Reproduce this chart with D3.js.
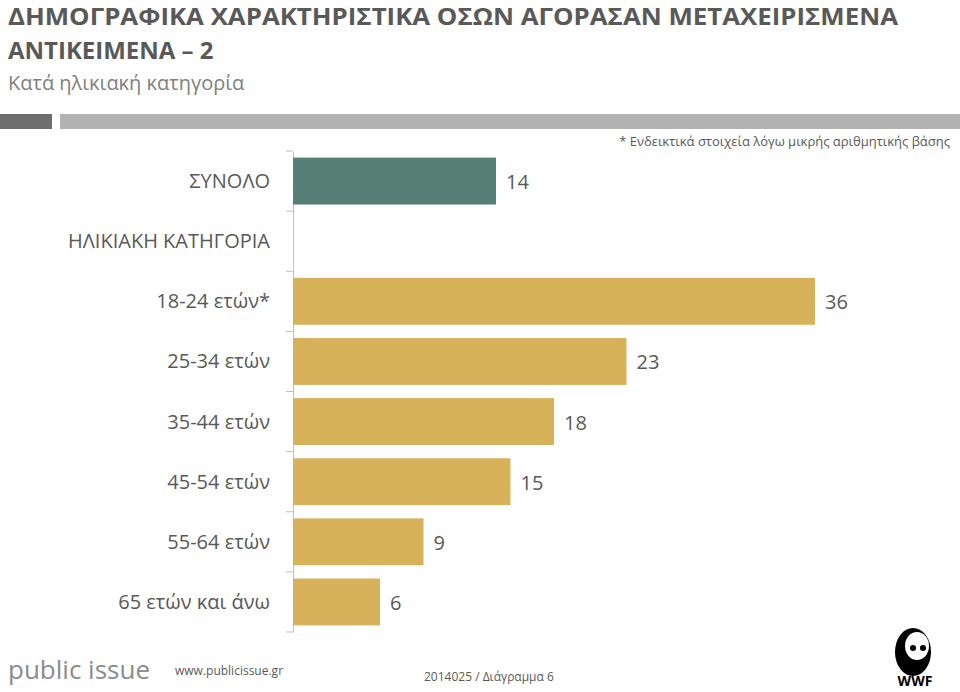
<!DOCTYPE html><html><head><meta charset="utf-8">
<script src="https://cdn.jsdelivr.net/npm/d3@7"></script>
<style>body{margin:0;background:#fff}text{font-family:"Open Sans",sans-serif}</style></head><body>
<svg id="c" width="960" height="692"></svg>
<script>
const categories=["ΣΥΝΟΛΟ","ΗΛΙΚΙΑΚΗ ΚΑΤΗΓΟΡΙΑ","18-24 ετών*","25-34 ετών","35-44 ετών","45-54 ετών","55-64 ετών","65 ετών και άνω"];
const values=[14,null,36,23,18,15,9,6];
const colors=["#568075",null,"#d8b25a","#d8b25a","#d8b25a","#d8b25a","#d8b25a","#d8b25a"];
const svg=d3.select("#c");
const x=d3.scaleLinear().domain([0,36]).range([293,815]);
const y=d3.scaleBand().domain(categories).range([151,632]).paddingInner(0.22).paddingOuter(0.11);
svg.append("text").attr("x",8).attr("y",25).attr("font-size",24).attr("font-weight","bold").attr("fill","#595959").attr("textLength",890).attr("lengthAdjust","spacingAndGlyphs").text("ΔΗΜΟΓΡΑΦΙΚΑ ΧΑΡΑΚΤΗΡΙΣΤΙΚΑ ΟΣΩΝ ΑΓΟΡΑΣΑΝ ΜΕΤΑΧΕΙΡΙΣΜΕΝΑ");
svg.append("text").attr("x",8).attr("y",59).attr("font-size",24).attr("font-weight","bold").attr("fill","#595959").text("ΑΝΤΙΚΕΙΜΕΝΑ – 2");
svg.append("text").attr("x",8).attr("y",90).attr("font-size",20).attr("fill","#7f7f7f").text("Κατά ηλικιακή κατηγορία");
svg.append("rect").attr("x",0).attr("y",114).attr("width",52).attr("height",15).attr("fill","#6e6e6e");
svg.append("rect").attr("x",60).attr("y",114).attr("width",900).attr("height",15).attr("fill","#b3b3b3");
svg.append("text").attr("x",950).attr("y",146).attr("text-anchor","end").attr("font-size",13).attr("fill","#595959").text("* Ενδεικτικά στοιχεία λόγω μικρής αριθμητικής βάσης");
const g=svg.append("g").attr("transform","translate(293,0)");
g.call(d3.axisLeft(y).tickSize(0).tickFormat(""));
g.select(".domain").attr("stroke","#bfbfbf");
categories.concat(["end"]).forEach((c,i)=>{const yy=151+i*(481/8);g.append("line").attr("x1",-7).attr("x2",0).attr("y1",yy).attr("y2",yy).attr("stroke","#bfbfbf");});
categories.forEach((c,i)=>{
  svg.append("text").attr("x",270).attr("y",y(c)+y.bandwidth()/2+7).attr("text-anchor","end").attr("font-size",20).attr("fill","#595959").text(c);
  if(values[i]!=null){
    svg.append("rect").attr("x",x(0)).attr("y",y(c)).attr("width",x(values[i])-x(0)).attr("height",y.bandwidth()).attr("fill",colors[i]);
    svg.append("text").attr("x",x(values[i])+10).attr("y",y(c)+y.bandwidth()/2+8).attr("font-size",20).attr("fill","#595959").text(values[i]);
  }
});
svg.append("text").attr("x",8).attr("y",679).attr("font-size",26).attr("fill","#8c8c8c").attr("font-family","DejaVu Sans").text("public issue");
svg.append("text").attr("x",175).attr("y",675).attr("font-size",12).attr("fill","#595959").text("www.publicissue.gr");
svg.append("text").attr("x",424).attr("y",681).attr("font-size",12).attr("fill","#595959").text("2014025 / Διάγραμμα 6");
svg.append("text").attr("x",915).attr("y",686).attr("text-anchor","middle").attr("font-size",14).attr("font-weight","bold").attr("fill","#000").text("WWF");
const p=svg.append("g").attr("transform","translate(913,652)");
p.append("ellipse").attr("rx",18).attr("ry",24).attr("fill","#000");
p.append("ellipse").attr("cx",4).attr("cy",-6).attr("rx",12).attr("ry",14).attr("fill","#fff");
p.append("circle").attr("cx",0).attr("cy",-4).attr("r",3).attr("fill","#000");
p.append("circle").attr("cx",10).attr("cy",-4).attr("r",3).attr("fill","#000");
</script></body></html>
